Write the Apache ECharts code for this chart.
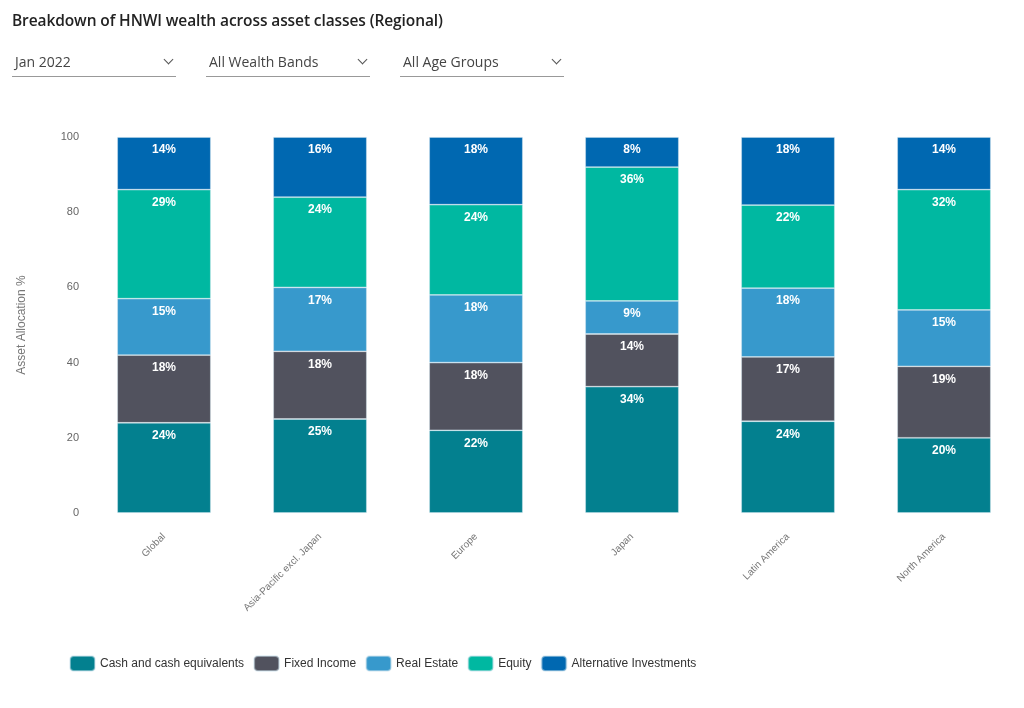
<!DOCTYPE html>
<html>
<head>
<meta charset="utf-8">
<script src="https://cdn.jsdelivr.net/npm/echarts@6/dist/echarts.min.js"></script>
<style>
  html, body { margin: 0; padding: 0; background: #fff; }
  body { width: 1024px; height: 708px; position: relative; overflow: hidden; font-family: "Open Sans", "Noto Sans", sans-serif; }
  .title { position: absolute; left: 12px; top: 9px; font-size: 15.5px; font-weight: 600; color: #222; letter-spacing: -0.1px; }
  .select { position: absolute; top: 52px; width: 164px; height: 25px; border-bottom: 1px solid #999; font-size: 14px; color: #444; box-sizing: border-box; padding-left: 3px; line-height: 20px; }
  .select .arrow { position: absolute; right: 4px; top: 4px; width: 6px; height: 6px; border-right: 1.5px solid #555; border-bottom: 1.5px solid #555; transform: rotate(45deg); }
  #chart { position: absolute; left: 0; top: 0; width: 1024px; height: 708px; }
</style>
</head>
<body>
<div id="chart"></div>
<div class="title">Breakdown of HNWI wealth across asset classes (Regional)</div>
<div class="select" style="left:12px">Jan 2022<span class="arrow"></span></div>
<div class="select" style="left:206px">All Wealth Bands<span class="arrow"></span></div>
<div class="select" style="left:400px">All Age Groups<span class="arrow"></span></div>
<script>
const regions = ['Global', 'Asia-Pacific excl. Japan', 'Europe', 'Japan', 'Latin America', 'North America'];
const cash = [24, 25, 22, 33.6, 24.4, 20];
const fixedIncome = [18, 18, 18, 14, 17.1, 19];
const realEstate = [15, 17, 18, 8.8, 18.3, 15];
const equity = [29, 24, 24, 35.6, 22.1, 32];
const alternatives = [14, 16, 18, 8, 18.1, 14];
const yTicks = [0, 20, 40, 60, 80, 100];

const seriesDefs = [
  { name: 'Cash and cash equivalents', data: cash, color: '#03808f' },
  { name: 'Fixed Income', data: fixedIncome, color: '#51525e' },
  { name: 'Real Estate', data: realEstate, color: '#3799cc' },
  { name: 'Equity', data: equity, color: '#00b8a1' },
  { name: 'Alternative Investments', data: alternatives, color: '#0068b1' }
];

const chart = echarts.init(document.getElementById('chart'));
chart.setOption({
  animation: false,
  textStyle: { fontFamily: 'Liberation Sans, Arial, sans-serif' },
  grid: { left: 86, right: 2, top: 137, bottom: 195 },
  legend: {
    left: 64,
    top: 650,
    itemWidth: 25,
    itemHeight: 15,
    itemGap: 9,
    icon: 'roundRect',
    textStyle: { fontSize: 12, color: '#333' },
    data: seriesDefs.map(s => s.name)
  },
  xAxis: {
    type: 'category',
    data: regions,
    axisLine: { show: false },
    axisTick: { show: false },
    axisLabel: { rotate: 45, fontSize: 10, color: '#777', margin: 22, interval: 0 }
  },
  yAxis: {
    type: 'value',
    min: yTicks[0],
    max: yTicks[yTicks.length - 1],
    interval: 20,
    name: 'Asset Allocation %',
    nameLocation: 'middle',
    nameGap: 58,
    nameTextStyle: { fontSize: 12, color: '#777' },
    splitLine: { show: false },
    axisLine: { show: false },
    axisTick: { show: false },
    axisLabel: { fontSize: 11, color: '#666', margin: 7 }
  },
  series: seriesDefs.map(s => ({
    type: 'bar',
    name: s.name,
    stack: 'total',
    barWidth: '60%',
    data: s.data,
    itemStyle: { color: s.color, borderColor: 'rgba(210,230,240,0.5)', borderWidth: 0.8 },
    label: {
      show: true,
      position: 'insideTop',
      distance: 7,
      color: '#fff',
      fontSize: 12,
      fontWeight: 'bold',
      formatter: p => Math.round(p.value) + '%'
    }
  }))
});
</script>
</body>
</html>
